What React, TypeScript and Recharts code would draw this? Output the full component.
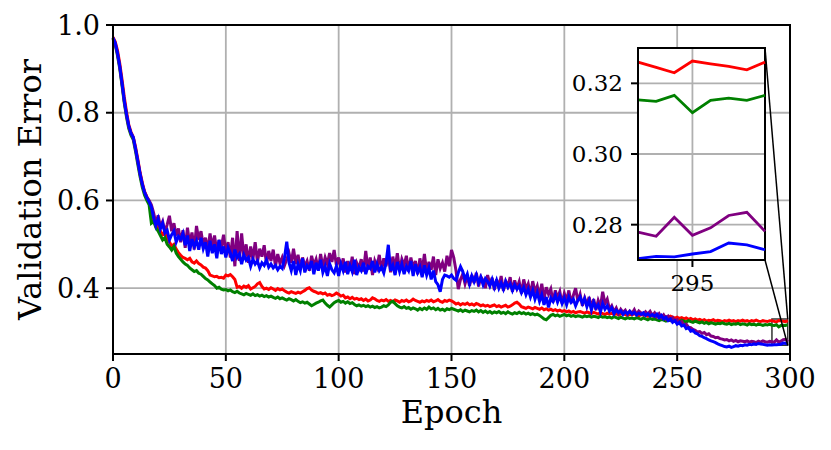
import React from "react";
import {
  LineChart,
  Line,
  XAxis,
  YAxis,
  CartesianGrid,
  ReferenceArea,
  ReferenceLine,
  Label,
} from "recharts";

const FONT = "'DejaVu Serif', serif";

// epochs 0..299
const epochs = Array.from({ length: 300 }, (_, i) => i);

const redErr = [
  0.972, 0.962, 0.942, 0.912, 0.876, 0.836, 0.802, 0.772, 0.756, 0.744,
  0.722, 0.694, 0.664, 0.640, 0.620, 0.608, 0.598, 0.572, 0.556, 0.548,
  0.540, 0.530, 0.522, 0.526, 0.512, 0.505, 0.496, 0.500, 0.489, 0.481,
  0.475, 0.470, 0.468, 0.465, 0.468, 0.460, 0.457, 0.462, 0.456, 0.453,
  0.448, 0.446, 0.440, 0.430, 0.428, 0.426, 0.427, 0.424, 0.425, 0.423,
  0.430, 0.428, 0.431, 0.426, 0.420, 0.402, 0.404, 0.400, 0.405, 0.402,
  0.406, 0.398, 0.401, 0.404, 0.410, 0.413, 0.404, 0.398, 0.400, 0.397,
  0.401, 0.398, 0.395, 0.399, 0.396, 0.398, 0.394, 0.391, 0.389, 0.392,
  0.390, 0.388, 0.391, 0.389, 0.392, 0.395, 0.399, 0.401, 0.396, 0.393,
  0.391, 0.388, 0.390, 0.387, 0.389, 0.384, 0.386, 0.383, 0.385, 0.389,
  0.386, 0.382, 0.384, 0.378, 0.380, 0.376, 0.379, 0.375, 0.377, 0.374,
  0.376, 0.372, 0.375, 0.371, 0.373, 0.378, 0.376, 0.372, 0.370, 0.373,
  0.371, 0.374, 0.370, 0.372, 0.369, 0.373, 0.371, 0.368, 0.372, 0.370,
  0.373, 0.369, 0.371, 0.375, 0.372, 0.370, 0.368, 0.371, 0.369, 0.372,
  0.370, 0.373, 0.369, 0.371, 0.374, 0.370, 0.368, 0.372, 0.370, 0.373,
  0.371, 0.368, 0.364, 0.366, 0.362, 0.365, 0.363, 0.366, 0.362, 0.364,
  0.361, 0.365, 0.363, 0.360, 0.362, 0.359, 0.361, 0.358, 0.360, 0.362,
  0.358, 0.360, 0.357, 0.359, 0.361, 0.357, 0.359, 0.362, 0.366, 0.368,
  0.364, 0.358, 0.356, 0.354, 0.357, 0.355, 0.353, 0.356, 0.354, 0.352,
  0.355, 0.351, 0.353, 0.350, 0.352, 0.349, 0.351, 0.348, 0.350, 0.347,
  0.349, 0.346, 0.348, 0.345, 0.347, 0.344, 0.346, 0.347, 0.345, 0.343,
  0.346, 0.344, 0.342, 0.345, 0.343, 0.341, 0.344, 0.342, 0.340, 0.343,
  0.341, 0.343, 0.340, 0.342, 0.339, 0.341, 0.343, 0.340, 0.338, 0.341,
  0.339, 0.342, 0.340, 0.337, 0.339, 0.341, 0.338, 0.336, 0.339, 0.337,
  0.335, 0.338, 0.336, 0.334, 0.337, 0.335, 0.333, 0.336, 0.334, 0.332,
  0.334, 0.331, 0.333, 0.330, 0.332, 0.329, 0.331, 0.328, 0.330, 0.327,
  0.329, 0.326, 0.328, 0.325, 0.327, 0.326, 0.328, 0.325, 0.327, 0.326,
  0.324, 0.326, 0.325, 0.327, 0.325, 0.326, 0.324, 0.326, 0.325, 0.327,
  0.325, 0.326, 0.324, 0.326, 0.325, 0.327, 0.325, 0.324, 0.326, 0.325,
  0.324, 0.326, 0.326, 0.3245, 0.323, 0.3263, 0.3255, 0.3248, 0.3238, 0.326,
];

const greenErr = [
  0.968, 0.955, 0.930, 0.900, 0.862, 0.822, 0.790, 0.764, 0.748, 0.738,
  0.712, 0.682, 0.654, 0.630, 0.612, 0.600, 0.590, 0.548, 0.552, 0.538,
  0.530, 0.520, 0.510, 0.515, 0.500, 0.494, 0.487, 0.495, 0.480, 0.472,
  0.466, 0.460, 0.455, 0.452, 0.446, 0.442, 0.438, 0.440, 0.434, 0.432,
  0.427, 0.422, 0.419, 0.414, 0.410, 0.406, 0.400, 0.402, 0.398, 0.396,
  0.397, 0.394, 0.396, 0.392, 0.390, 0.393, 0.389, 0.387, 0.385, 0.388,
  0.386, 0.384, 0.387, 0.383, 0.385, 0.382, 0.384, 0.381, 0.383, 0.380,
  0.382, 0.379, 0.377, 0.380, 0.376, 0.378, 0.375, 0.373, 0.376, 0.374,
  0.371, 0.374, 0.370, 0.367, 0.369, 0.366, 0.368, 0.364, 0.360, 0.363,
  0.366, 0.368, 0.371, 0.373, 0.366, 0.361, 0.357, 0.362, 0.367, 0.370,
  0.372, 0.368, 0.370, 0.366, 0.369, 0.365, 0.367, 0.363, 0.360, 0.362,
  0.359, 0.361, 0.358, 0.360, 0.357, 0.359, 0.356, 0.358, 0.355, 0.357,
  0.360, 0.358, 0.362, 0.368, 0.370, 0.365, 0.360, 0.357, 0.355, 0.358,
  0.354, 0.356, 0.352, 0.355, 0.353, 0.350, 0.354, 0.351, 0.355, 0.352,
  0.357, 0.353, 0.355, 0.351, 0.354, 0.350, 0.352, 0.349, 0.353, 0.351,
  0.354, 0.352, 0.350, 0.348, 0.351, 0.347, 0.350, 0.348, 0.346, 0.349,
  0.347, 0.350, 0.346, 0.349, 0.345, 0.348, 0.344, 0.347, 0.343, 0.346,
  0.344, 0.347, 0.343, 0.345, 0.342, 0.346, 0.343, 0.341, 0.344, 0.342,
  0.345, 0.342, 0.344, 0.341, 0.343, 0.340, 0.342, 0.339, 0.341, 0.338,
  0.334, 0.330, 0.328, 0.333, 0.338, 0.340, 0.337, 0.339, 0.336, 0.338,
  0.340, 0.337, 0.339, 0.336, 0.338, 0.335, 0.337, 0.336, 0.334, 0.337,
  0.335, 0.337, 0.334, 0.336, 0.335, 0.333, 0.336, 0.334, 0.335, 0.333,
  0.334, 0.332, 0.335, 0.333, 0.331, 0.334, 0.332, 0.330, 0.333, 0.331,
  0.332, 0.330, 0.333, 0.331, 0.329, 0.332, 0.330, 0.328, 0.331, 0.329,
  0.330, 0.328, 0.326, 0.329, 0.327, 0.325, 0.328, 0.326, 0.327, 0.325,
  0.326, 0.324, 0.327, 0.325, 0.323, 0.326, 0.324, 0.322, 0.325, 0.323,
  0.321, 0.323, 0.320, 0.322, 0.319, 0.321, 0.320, 0.318, 0.320, 0.319,
  0.321, 0.319, 0.318, 0.320, 0.317, 0.319, 0.318, 0.320, 0.317, 0.319,
  0.318, 0.316, 0.319, 0.317, 0.318, 0.316, 0.318, 0.317, 0.315, 0.317,
  0.316, 0.318, 0.3153, 0.3149, 0.3166, 0.3117, 0.3152, 0.3158, 0.3152, 0.3166,
];

const purpleErr = [
  0.970, 0.957, 0.934, 0.904, 0.866, 0.826, 0.794, 0.768, 0.752, 0.742,
  0.716, 0.688, 0.660, 0.636, 0.619, 0.608, 0.600, 0.590, 0.572, 0.548,
  0.566, 0.540, 0.552, 0.528, 0.545, 0.565, 0.530, 0.548, 0.520, 0.536,
  0.505, 0.532, 0.492, 0.538, 0.500, 0.527, 0.488, 0.542, 0.510, 0.530,
  0.498, 0.515, 0.485, 0.525, 0.492, 0.520, 0.482, 0.510, 0.494, 0.522,
  0.480, 0.505, 0.470, 0.515, 0.450, 0.530, 0.462, 0.525, 0.470, 0.500,
  0.458, 0.495, 0.466, 0.505, 0.460, 0.490, 0.472, 0.498, 0.455, 0.485,
  0.462, 0.488, 0.450, 0.478, 0.456, 0.470, 0.452, 0.466, 0.480, 0.458,
  0.490, 0.455, 0.476, 0.446, 0.470, 0.450, 0.462, 0.440, 0.474, 0.452,
  0.466, 0.442, 0.478, 0.448, 0.470, 0.455, 0.480, 0.460, 0.487, 0.452,
  0.470, 0.445, 0.468, 0.436, 0.462, 0.440, 0.472, 0.432, 0.458, 0.446,
  0.466, 0.438, 0.485, 0.442, 0.470, 0.430, 0.462, 0.448, 0.476, 0.440,
  0.468, 0.450, 0.478, 0.436, 0.472, 0.445, 0.480, 0.440, 0.466, 0.452,
  0.474, 0.438, 0.470, 0.446, 0.462, 0.432, 0.468, 0.440, 0.478, 0.436,
  0.460, 0.442, 0.472, 0.430, 0.466, 0.445, 0.458, 0.438, 0.474, 0.450,
  0.487, 0.470, 0.440, 0.398, 0.420, 0.432, 0.410, 0.428, 0.405, 0.430,
  0.412, 0.435, 0.404, 0.426, 0.418, 0.400, 0.430, 0.408, 0.424, 0.396,
  0.420, 0.402, 0.428, 0.394, 0.416, 0.405, 0.425, 0.392, 0.418, 0.400,
  0.415, 0.388, 0.420, 0.398, 0.410, 0.385, 0.416, 0.392, 0.405, 0.380,
  0.410, 0.375, 0.402, 0.386, 0.398, 0.368, 0.395, 0.378, 0.392, 0.365,
  0.388, 0.372, 0.395, 0.366, 0.384, 0.400, 0.370, 0.386, 0.360, 0.378,
  0.362, 0.380, 0.355, 0.375, 0.350, 0.372, 0.358, 0.392, 0.365, 0.375,
  0.352, 0.360, 0.346, 0.355, 0.342, 0.352, 0.345, 0.350, 0.340, 0.348,
  0.343, 0.351, 0.340, 0.348, 0.344, 0.339, 0.346, 0.341, 0.347, 0.338,
  0.344, 0.335, 0.342, 0.333, 0.339, 0.330, 0.336, 0.328, 0.333, 0.325,
  0.328, 0.320, 0.324, 0.316, 0.318, 0.311, 0.310, 0.306, 0.304, 0.300,
  0.301, 0.297, 0.299, 0.294, 0.296, 0.291, 0.290, 0.287, 0.288, 0.285,
  0.284, 0.282, 0.283, 0.280, 0.282, 0.279, 0.281, 0.278, 0.280, 0.279,
  0.278, 0.280, 0.277, 0.279, 0.278, 0.276, 0.279, 0.277, 0.280, 0.278,
  0.277, 0.279, 0.2779, 0.2767, 0.2821, 0.2770, 0.2791, 0.2826, 0.2835, 0.2781,
];

const blueErr = [
  0.971, 0.959, 0.936, 0.906, 0.868, 0.828, 0.796, 0.770, 0.753, 0.744,
  0.718, 0.690, 0.661, 0.637, 0.618, 0.606, 0.597, 0.585, 0.560, 0.542,
  0.558, 0.535, 0.548, 0.526, 0.532, 0.510, 0.522, 0.530, 0.505, 0.518,
  0.512, 0.525, 0.498, 0.520, 0.485, 0.512, 0.495, 0.508, 0.488, 0.515,
  0.490, 0.505, 0.472, 0.508, 0.480, 0.500, 0.468, 0.510, 0.478, 0.495,
  0.470, 0.492, 0.480, 0.462, 0.488, 0.470, 0.478, 0.455, 0.476, 0.464,
  0.470, 0.450, 0.466, 0.455, 0.462, 0.446, 0.458, 0.452, 0.464, 0.448,
  0.455, 0.446, 0.452, 0.442, 0.450, 0.445, 0.470, 0.506, 0.458, 0.440,
  0.462, 0.430, 0.455, 0.440, 0.468, 0.436, 0.452, 0.445, 0.462, 0.432,
  0.458, 0.440, 0.465, 0.436, 0.450, 0.428, 0.456, 0.442, 0.435, 0.450,
  0.428, 0.455, 0.440, 0.460, 0.432, 0.452, 0.438, 0.465, 0.430, 0.448,
  0.440, 0.458, 0.432, 0.450, 0.445, 0.462, 0.436, 0.455, 0.440, 0.448,
  0.435, 0.458, 0.499, 0.440, 0.452, 0.430, 0.460, 0.438, 0.455, 0.432,
  0.450, 0.440, 0.462, 0.428, 0.455, 0.436, 0.448, 0.425, 0.452, 0.430,
  0.446, 0.420, 0.440, 0.415, 0.408, 0.392, 0.420, 0.430, 0.428, 0.425,
  0.430, 0.422, 0.418, 0.435, 0.449, 0.438, 0.420, 0.432, 0.410, 0.428,
  0.415, 0.430, 0.412, 0.425, 0.408, 0.422, 0.415, 0.405, 0.420, 0.402,
  0.418, 0.400, 0.412, 0.398, 0.415, 0.402, 0.410, 0.395, 0.408, 0.398,
  0.405, 0.390, 0.402, 0.385, 0.398, 0.380, 0.395, 0.375, 0.390, 0.370,
  0.385, 0.362, 0.380, 0.356, 0.378, 0.370, 0.384, 0.368, 0.382, 0.365,
  0.378, 0.362, 0.380, 0.368, 0.375, 0.360, 0.372, 0.380, 0.365, 0.376,
  0.358, 0.372, 0.350, 0.368, 0.355, 0.362, 0.346, 0.365, 0.352, 0.360,
  0.348, 0.355, 0.342, 0.350, 0.345, 0.348, 0.340, 0.346, 0.342, 0.347,
  0.341, 0.345, 0.339, 0.343, 0.340, 0.344, 0.338, 0.342, 0.337, 0.340,
  0.336, 0.341, 0.333, 0.338, 0.330, 0.334, 0.326, 0.330, 0.322, 0.326,
  0.318, 0.322, 0.314, 0.316, 0.308, 0.310, 0.302, 0.304, 0.298, 0.296,
  0.292, 0.290, 0.287, 0.285, 0.282, 0.280, 0.278, 0.276, 0.273, 0.271,
  0.269, 0.267, 0.266, 0.268, 0.265, 0.267, 0.269, 0.268, 0.270, 0.269,
  0.271, 0.270, 0.272, 0.271, 0.273, 0.272, 0.274, 0.273, 0.272, 0.271,
  0.270, 0.271, 0.2704, 0.2710, 0.2709, 0.2717, 0.2724, 0.2748, 0.2743, 0.2729,
];

const xTicks = [0, 50, 100, 150, 200, 250, 300];
const yTicks = [0.4, 0.6, 0.8, 1.0];
const insetXTicks = [295];
const insetYTicks = [0.28, 0.3, 0.32];
const zoomEpochs: [number, number] = [292, 299];
const zoomErr: [number, number] = [0.27, 0.33];

const SERIES = [
  { key: "red", color: "#ff0000" },
  { key: "green", color: "#008000" },
  { key: "purple", color: "#800080" },
  { key: "blue", color: "#0000ff" },
];

const rows = epochs.map((epoch, i) => ({
  epoch,
  red: redErr[i],
  green: greenErr[i],
  purple: purpleErr[i],
  blue: blueErr[i],
}));
const insetRows = rows.filter((r) => r.epoch >= zoomEpochs[0]);

// layout (pixels)
const W = 831;
const H = 450;
const PLOT = { left: 113, top: 25, right: 790, bottom: 354 };
const X_DOMAIN: [number, number] = [0, 300];
const Y_DOMAIN: [number, number] = [0.25, 1.0];
const INSET_BOX = { left: 638, top: 48, right: 765, bottom: 260 };
const INSET_POS = { left: 560, top: 40, width: 215, height: 270 };

// pixel -> data, used to anchor the inset connectors in main-chart units
const toEpoch = (px: number) =>
  X_DOMAIN[0] + ((px - PLOT.left) / (PLOT.right - PLOT.left)) * (X_DOMAIN[1] - X_DOMAIN[0]);
const toErr = (py: number) =>
  Y_DOMAIN[1] - ((py - PLOT.top) / (PLOT.bottom - PLOT.top)) * (Y_DOMAIN[1] - Y_DOMAIN[0]);

const axisStyle = { stroke: "#000", strokeWidth: 2 };

function YTitle(props: any) {
  const vb = props.viewBox || {};
  const cx = 30;
  const cy = vb.height ? vb.y + vb.height / 2 : (PLOT.top + PLOT.bottom) / 2;
  return (
    <text
      x={cx}
      y={cy}
      transform={`rotate(-90 ${cx} ${cy})`}
      textAnchor="middle"
      dominantBaseline="central"
      fontFamily={FONT}
      fontSize={32}
      fill="#000"
    >
      Validation Error
    </text>
  );
}

function Inset() {
  return (
    <LineChart
      width={INSET_POS.width}
      height={INSET_POS.height}
      data={insetRows}
      margin={{
        top: INSET_BOX.top - INSET_POS.top,
        right: INSET_POS.left + INSET_POS.width - INSET_BOX.right,
        bottom: 10,
        left: 0,
      }}
    >
      <CartesianGrid
        stroke="#b0b0b0"
        strokeWidth={1.8}
        fill="#ffffff"
        fillOpacity={1}
        horizontalValues={insetYTicks}
        verticalValues={insetXTicks}
      />
      <XAxis
        dataKey="epoch"
        type="number"
        domain={zoomEpochs}
        ticks={insetXTicks}
        interval={0}
        height={INSET_POS.height - 10 - (INSET_BOX.bottom - INSET_POS.top)}
        tickSize={7}
        tickMargin={8}
        axisLine={axisStyle}
        tickLine={axisStyle}
        tick={{ fontFamily: FONT, fontSize: 23, fill: "#000" }}
      />
      <YAxis
        type="number"
        domain={zoomErr}
        ticks={insetYTicks}
        interval={0}
        width={INSET_BOX.left - INSET_POS.left}
        tickSize={7}
        tickMargin={8}
        axisLine={axisStyle}
        tickLine={axisStyle}
        tickFormatter={(v: number) => v.toFixed(2)}
        tick={{ fontFamily: FONT, fontSize: 23, fill: "#000" }}
        allowDataOverflow
      />
      {SERIES.map((s) => (
        <Line
          key={s.key}
          dataKey={s.key}
          stroke={s.color}
          strokeWidth={2.8}
          dot={false}
          isAnimationActive={false}
        />
      ))}
      <ReferenceArea
        x1={zoomEpochs[0]}
        x2={zoomEpochs[1]}
        y1={zoomErr[0]}
        y2={zoomErr[1]}
        fill="none"
        stroke="#000"
        strokeWidth={2}
      />
    </LineChart>
  );
}

export default function App() {
  return (
    <div
      style={{
        position: "absolute",
        left: 0,
        top: 0,
        width: W,
        height: H,
        background: "#fff",
      }}
    >
      <LineChart
        width={W}
        height={H}
        data={rows}
        margin={{ top: PLOT.top, right: W - PLOT.right, bottom: 21, left: 0 }}
      >
        <CartesianGrid
          stroke="#b0b0b0"
          strokeWidth={1.8}
          horizontalValues={yTicks}
          verticalValues={xTicks}
        />
        <XAxis
          dataKey="epoch"
          type="number"
          domain={X_DOMAIN}
          ticks={xTicks}
          interval={0}
          height={H - 21 - PLOT.bottom}
          tickSize={7}
          tickMargin={8}
          axisLine={axisStyle}
          tickLine={axisStyle}
          tick={{ fontFamily: FONT, fontSize: 27, fill: "#000" }}
          label={{
            value: "Epoch",
            position: "insideBottom",
            offset: 6,
            fontFamily: FONT,
            fontSize: 32,
            fill: "#000",
          }}
        />
        <YAxis
          type="number"
          domain={Y_DOMAIN}
          ticks={yTicks}
          interval={0}
          width={PLOT.left}
          tickSize={7}
          tickMargin={6}
          axisLine={axisStyle}
          tickLine={axisStyle}
          tickFormatter={(v: number) => v.toFixed(1)}
          tick={{ fontFamily: FONT, fontSize: 27, fill: "#000" }}
          label={<Label content={YTitle} />}
        />
        {SERIES.map((s) => (
          <Line
            key={s.key}
            dataKey={s.key}
            stroke={s.color}
            strokeWidth={3}
            dot={false}
            isAnimationActive={false}
          />
        ))}
        <ReferenceArea
          x1={X_DOMAIN[0]}
          x2={X_DOMAIN[1]}
          y1={Y_DOMAIN[0]}
          y2={Y_DOMAIN[1]}
          fill="none"
          stroke="#000"
          strokeWidth={2}
        />
        <ReferenceArea
          x1={zoomEpochs[0]}
          x2={zoomEpochs[1]}
          y1={zoomErr[0]}
          y2={zoomErr[1]}
          fill="none"
          stroke="#333"
          strokeWidth={1.5}
        />
        <ReferenceLine
          segment={[
            { x: zoomEpochs[1], y: zoomErr[1] },
            { x: toEpoch(INSET_BOX.right), y: toErr(INSET_BOX.top) },
          ]}
          stroke="#000"
          strokeWidth={1.5}
        />
        <ReferenceLine
          segment={[
            { x: zoomEpochs[1], y: zoomErr[0] },
            { x: toEpoch(INSET_BOX.right), y: toErr(INSET_BOX.bottom) },
          ]}
          stroke="#000"
          strokeWidth={1.5}
        />
      </LineChart>
      <div
        style={{
          position: "absolute",
          left: INSET_POS.left,
          top: INSET_POS.top,
        }}
      >
        <Inset />
      </div>
    </div>
  );
}
